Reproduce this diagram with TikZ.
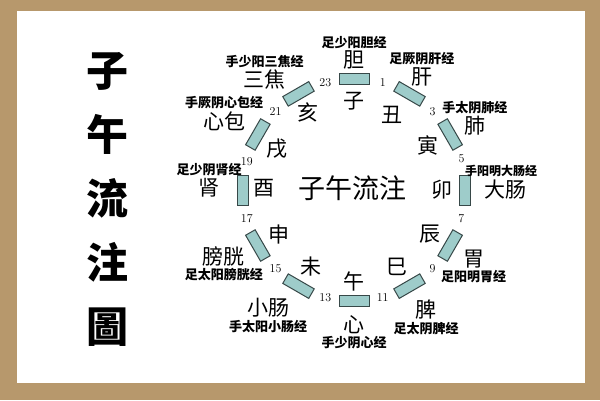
\documentclass[tikz,border=0pt]{standalone}
\usepackage{fontspec}
\newfontfamily\cjk{Noto Sans CJK SC}
\usepackage{tikz}
\usetikzlibrary{positioning}

\definecolor{framebrown}{RGB}{183,152,108}
\definecolor{barfill}{RGB}{158,204,202}
\definecolor{barline}{RGB}{55,72,72}

\begin{document}
\begin{tikzpicture}[x=1pt,y=1pt]

        % frame
        \fill[framebrown] (0,0) rectangle (600,400);
        \fill[white] (17,17) rectangle (585,389);
        \useasboundingbox (0,0) rectangle (600,400);

        \node[font=\cjk\bfseries\fontsize{42}{64}\selectfont, align=center] (title) at (107,201) {子\\午\\流\\注\\圖};

        \begin{scope}[shift={(354,210)}]

        \node[font=\cjk\fontsize{27}{27}\selectfont] (centre) at (-2,2) {子午流注};

        % hour bars
        \begin{scope}[every node/.style={draw=barline,fill=barfill,line width=1pt,
            minimum width=30pt,minimum height=11pt,inner sep=0pt}]
            \node[rotate=0]    (b1)  at (90:111) {};
            \node[rotate=-30]  (b2)  at (60:111) {};
            \node[rotate=-60]  (b3)  at (30:111) {};
            \node[rotate=-90]  (b4)  at (0:111) {};
            \node[rotate=-120] (b5)  at (-30:111) {};
            \node[rotate=-150] (b6)  at (-60:111) {};
            \node[rotate=0]    (b7)  at (-90:111) {};
            \node[rotate=-30]  (b8)  at (-120:111) {};
            \node[rotate=-60]  (b9)  at (-150:111) {};
            \node[rotate=-90]  (b10) at (180:111) {};
            \node[rotate=-120] (b11) at (150:111) {};
            \node[rotate=-150] (b12) at (120:111) {};
        \end{scope}

        % hour numbers
        \begin{scope}[every node/.style={font=\fontsize{12}{12}\selectfont,inner sep=1pt}]
            \node (h23) at (105:111) {23};
            \node (h1)  at (75:111) {1};
            \node (h3)  at (45:111) {3};
            \node (h5)  at (16:112) {5};
            \node (h7)  at (-15:111) {7};
            \node (h9)  at (-45:111) {9};
            \node (h11) at (-75:111) {11};
            \node (h13) at (-105:111) {13};
            \node (h15) at (-135:111) {15};
            \node (h17) at (-165:111) {17};
            \node (h19) at (165:111) {19};
            \node (h21) at (135:111) {21};
        \end{scope}

        % earthly branches
        \begin{scope}[every node/.style={font=\cjk\fontsize{21}{21}\selectfont}]
            \node (zi)   at (90:89) {子};
            \node (chou) at (63:84) {丑};
            \node (yin)  at (31:86) {寅};
            \node (mao)  at (0:88) {卯};
            \node (chen) at (-30:88) {辰};
            \node (si)   at (-61:88) {巳};
            \node (wu)   at (-90:91) {午};
            \node (wei)  at (-119:88) {未};
            \node (shen) at (-149:87) {申};
            \node (you)  at (179:90) {酉};
            \node (xu)   at (152:87) {戌};
            \node (hai)  at (121:90) {亥};
        \end{scope}

        % organs
        \begin{scope}[every node/.style={font=\cjk\fontsize{21}{21}\selectfont,inner sep=1pt}]
            \node (dan)     at (90:130) {胆};
            \node (gan)     at (59:132) {肝};
            \node (fei)     at (28:137) {肺};
            \node (dachang) at (0:151) {大肠};
            \node (weiorg)  at (-30:138) {胃};
            \node (pi)      at (-59:140) {脾};
            \node (xin)     at (-90:135) {心};
            \node (xiaochang) at (-126:146) {小肠};
            \node (pangguang) at (-153:146) {膀胱};
            \node (shenorg) at (179:145) {肾};
            \node (xinbao)  at (152:147) {心包};
            \node (sanjiao) at (129:142) {三焦};
        \end{scope}

        % meridians
        \begin{scope}[every node/.style={font=\cjk\bfseries\fontsize{13}{13}\selectfont,inner sep=1pt}]
            \node[above=0pt of dan] (m-dan) {足少阳胆经};
            \node[above=0pt of gan] (m-gan) {足厥阴肝经};
            \node[above=0pt of fei] (m-fei) {手太阴肺经};
            \node[above=1pt of dachang, xshift=-4pt, font=\cjk\bfseries\fontsize{12}{12}\selectfont] (m-dachang) {手阳明大肠经};
            \node[below=0pt of weiorg] (m-wei) {足阳明胃经};
            \node[below=0pt of pi] (m-pi) {足太阴脾经};
            \node[below=0pt of xin] (m-xin) {手少阴心经};
            \node[below=0pt of xiaochang] (m-xiaochang) {手太阳小肠经};
            \node[below=0pt of pangguang] (m-pangguang) {足太阳膀胱经};
            \node[above=0pt of shenorg] (m-shen) {足少阴肾经};
            \node[above=0pt of xinbao] (m-xinbao) {手厥阴心包经};
            \node[above=0pt of sanjiao] (m-sanjiao) {手少阳三焦经};
        \end{scope}

        \end{scope}
    \end{tikzpicture}
\end{document}
